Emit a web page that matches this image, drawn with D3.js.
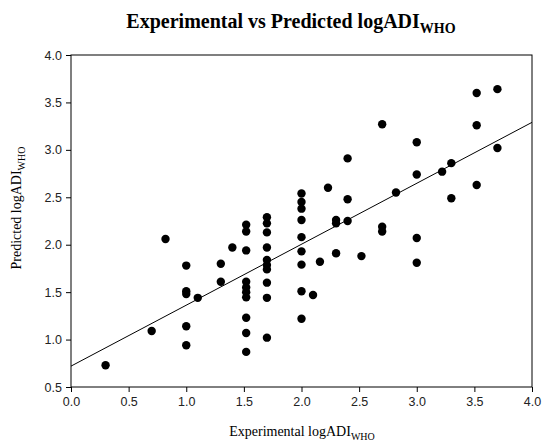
<!DOCTYPE html>
<html>
<head>
<meta charset="utf-8">
<script src="https://cdn.jsdelivr.net/npm/d3@7"></script>
<style>
  body { margin: 0; background: #fff; }
  svg { display: block; }
</style>
</head>
<body>
<div id="chart"></div>
<script>
// Experimental vs predicted logADI (WHO) scatter with fitted line

const expX = [
    0.30, 0.70, 0.82,
    1.00, 1.00, 1.00, 1.00, 1.00,
    1.10, 1.30, 1.30, 1.40,
    1.52, 1.52, 1.52, 1.52, 1.52, 1.52, 1.52, 1.52, 1.52, 1.52,
    1.70, 1.70, 1.70, 1.70, 1.70, 1.70, 1.70, 1.70, 1.70, 1.70,
    2.00, 2.00, 2.00, 2.00, 2.00, 2.00, 2.00, 2.00, 2.00,
    2.10, 2.16, 2.23, 2.30, 2.30, 2.30, 2.40, 2.40, 2.40, 2.52,
    2.70, 2.70, 2.70, 2.82,
    3.00, 3.00, 3.00, 3.00,
    3.22, 3.30, 3.30,
    3.52, 3.52, 3.52, 3.70, 3.70
];

const predY = [
    0.73, 1.09, 2.06,
    1.78, 1.51, 1.48, 1.14, 0.94,
    1.44, 1.80, 1.61, 1.97,
    2.21, 2.14, 1.94, 1.61, 1.55, 1.50, 1.445, 1.23, 1.07, 0.87,
    2.29, 2.225, 2.13, 1.97, 1.84, 1.785, 1.74, 1.60, 1.44, 1.02,
    2.54, 2.45, 2.38, 2.26, 2.08, 1.93, 1.79, 1.51, 1.22,
    1.47, 1.82, 2.60, 2.26, 2.225, 1.91, 2.91, 2.48, 2.25, 1.88,
    3.27, 2.19, 2.14, 2.55,
    3.08, 2.74, 2.07, 1.81,
    2.77, 2.86, 2.49,
    3.60, 3.26, 2.63, 3.64, 3.02
];

// fitted line: predicted = intercept + slope * experimental
const fitIntercept = 0.72;
const fitSlope = 0.6425;

const xTicks = [0, 0.5, 1, 1.5, 2, 2.5, 3, 3.5, 4];
const yTicks = [0.5, 1, 1.5, 2, 2.5, 3, 3.5, 4];

const width = 542;
const height = 442;
const margin = { top: 55, right: 10, bottom: 55, left: 71 };

const svg = d3.select('#chart')
    .append('svg')
    .attr('width', width)
    .attr('height', height);

const x = d3.scaleLinear().domain([0, 4]).range([71, 532]);
const y = d3.scaleLinear().domain([0.5, 4]).range([387, 55]);

const serif = '"Liberation Serif", "Times New Roman", serif';
const sans = '"Liberation Sans", Arial, sans-serif';

// frame
svg.append('rect')
    .attr('x', x(0))
    .attr('y', y(4))
    .attr('width', x(4) - x(0))
    .attr('height', y(0.5) - y(4))
    .attr('fill', 'none')
    .attr('stroke', '#000')
    .attr('stroke-width', 1);

// axes
const xAxis = svg.append('g')
    .attr('transform', `translate(0,${y(0.5)})`)
    .call(d3.axisBottom(x).tickValues(xTicks).tickFormat(d3.format('.1f')).tickSize(5).tickPadding(5));

const yAxis = svg.append('g')
    .attr('transform', `translate(${x(0)},0)`)
    .call(d3.axisLeft(y).tickValues(yTicks).tickFormat(d3.format('.1f')).tickSize(5).tickPadding(4));

[xAxis, yAxis].forEach(g => {
    g.select('.domain').remove();
    g.selectAll('line').attr('stroke', '#000');
    g.selectAll('text')
        .attr('fill', '#222')
        .style('font-family', sans)
        .style('font-size', '12.5px');
});

// regression line
svg.append('line')
    .attr('x1', x(0))
    .attr('y1', y(fitIntercept))
    .attr('x2', x(4))
    .attr('y2', y(fitIntercept + fitSlope * 4))
    .attr('stroke', '#000')
    .attr('stroke-width', 1);

// points
svg.append('g')
    .selectAll('circle')
    .data(expX.map((v, i) => [v, predY[i]]))
    .join('circle')
    .attr('cx', d => x(d[0]))
    .attr('cy', d => y(d[1]))
    .attr('r', 4.2)
    .attr('fill', '#000');

// title
const title = svg.append('text')
    .attr('x', 291)
    .attr('y', 28)
    .attr('text-anchor', 'middle')
    .style('font-family', serif)
    .style('font-weight', 'bold')
    .style('font-size', '20px');
title.append('tspan').text('Experimental vs Predicted logADI');
title.append('tspan').attr('dy', 5).style('font-size', '14px').text('WHO');

// x axis title
const xTitle = svg.append('text')
    .attr('x', 302)
    .attr('y', 436)
    .attr('text-anchor', 'middle')
    .style('font-family', serif)
    .style('font-size', '14px');
xTitle.append('tspan').text('Experimental logADI');
xTitle.append('tspan').attr('dy', 4).style('font-size', '10px').text('WHO');

// y axis title
const yTitle = svg.append('text')
    .attr('transform', 'translate(21,208) rotate(-90)')
    .attr('text-anchor', 'middle')
    .style('font-family', serif)
    .style('font-size', '14px');
yTitle.append('tspan').text('Predicted logADI');
yTitle.append('tspan').attr('dy', 4).style('font-size', '10px').text('WHO');
</script>
</body>
</html>
